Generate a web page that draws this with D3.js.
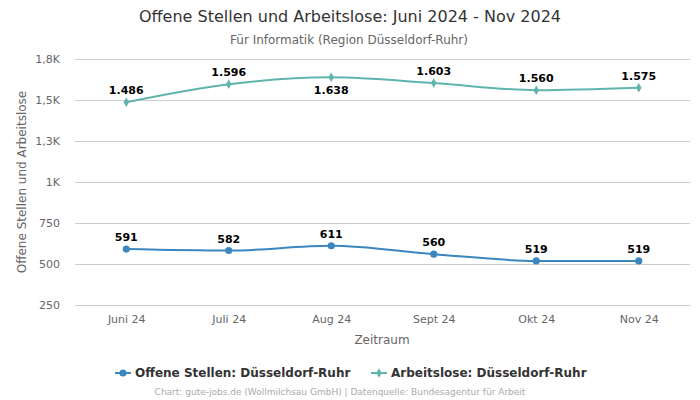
<!DOCTYPE html>
<html><head><meta charset="utf-8">
<script src="https://cdn.jsdelivr.net/npm/d3@7"></script>
<style>body{margin:0;background:#fff;font-family:"DejaVu Sans",sans-serif;}</style>
</head><body>
<svg id="c" width="700" height="400"></svg>
<script>
const categories = ["Juni 24","Juli 24","Aug 24","Sept 24","Okt 24","Nov 24"];
const offeneStellen = [591, 582, 611, 560, 519, 519];
const arbeitslose = [1486, 1596, 1638, 1603, 1560, 1575];
const yTicks = [250, 500, 750, 1000, 1250, 1500, 1750];
const yTickLabels = ["250","500","750","1K","1,3K","1,5K","1,8K"];
const labelBelow = [false, false, true, false, false, false];

const svg = d3.select("#c");
const M = {l:75, r:690, t:59, b:305};
const x = d3.scalePoint().domain(categories).range([M.l, M.r]).padding(0.5);
const y = d3.scaleLinear().domain([250,1750]).range([M.b, M.t]);

svg.append("text").attr("x",350).attr("y",22).attr("text-anchor","middle")
  .attr("font-size",16).attr("fill","#333").text("Offene Stellen und Arbeitslose: Juni 2024 - Nov 2024");
svg.append("text").attr("x",349).attr("y",44).attr("text-anchor","middle")
  .attr("font-size",12).attr("fill","#666").text("Für Informatik (Region Düsseldorf-Ruhr)");

const ya = svg.append("g").attr("transform",`translate(${M.l},0)`)
  .call(d3.axisLeft(y).tickValues(yTicks).tickFormat((d,i)=>yTickLabels[i]).tickSize(-(M.r-M.l)).tickPadding(15));
ya.select(".domain").remove();
ya.selectAll(".tick line").attr("stroke","#ccc");
ya.selectAll(".tick text").attr("fill","#666").attr("font-size",11).attr("font-family","DejaVu Sans");

const xa = svg.append("g").attr("transform",`translate(0,${M.b})`)
  .call(d3.axisBottom(x).tickSize(0).tickPadding(10));
xa.select(".domain").remove();
xa.selectAll(".tick text").attr("fill","#666").attr("font-size",11).attr("font-family","DejaVu Sans");

svg.append("text").attr("x",382).attr("y",344).attr("text-anchor","middle")
  .attr("font-size",12).attr("fill","#666").text("Zeitraum");
svg.append("text").attr("transform","translate(26,182) rotate(-90)").attr("text-anchor","middle")
  .attr("font-size",12).attr("fill","#666").text("Offene Stellen und Arbeitslose");

const fmt = v => d3.format(",")(v).replace(/,/g,".");
const series = [
  {vals: offeneStellen, color:"#3c86c0", sym: d3.symbolCircle, size: 40, below: categories.map(()=>false)},
  {vals: arbeitslose, color:"#5fb5ae", sym: d3.symbolDiamond, size: 26, below: labelBelow}
];
const line = d3.line().x((d,i)=>x(categories[i])).y(d=>y(d)).curve(d3.curveMonotoneX);
series.forEach(s=>{
  svg.append("path").datum(s.vals).attr("d",line).attr("fill","none").attr("stroke",s.color).attr("stroke-width",2);
  svg.selectAll(null).data(s.vals).enter().append("path")
    .attr("transform",(d,i)=>`translate(${x(categories[i])},${y(d)})`)
    .attr("d",d3.symbol().type(s.sym).size(s.size)).attr("fill",s.color);
  svg.selectAll(null).data(s.vals).enter().append("text")
    .attr("x",(d,i)=>x(categories[i])).attr("y",(d,i)=>s.below[i]? y(d)+17 : y(d)-8)
    .attr("text-anchor","middle").attr("font-size",11).attr("font-weight","bold").attr("fill","#000")
    .text(d=>fmt(d));
});

const legend = [{t:"Offene Stellen: Düsseldorf-Ruhr", c:"#3c86c0", sym:d3.symbolCircle, s:40, x:115},
                {t:"Arbeitslose: Düsseldorf-Ruhr", c:"#5fb5ae", sym:d3.symbolDiamond, s:26, x:371}];
legend.forEach(l=>{
  svg.append("line").attr("x1",l.x).attr("x2",l.x+16).attr("y1",373).attr("y2",373).attr("stroke",l.c).attr("stroke-width",2);
  svg.append("path").attr("transform",`translate(${l.x+8},373)`).attr("d",d3.symbol().type(l.sym).size(l.s)).attr("fill",l.c);
  svg.append("text").attr("x",l.x+20).attr("y",377).attr("font-size",12).attr("font-weight","bold").attr("fill","#333").text(l.t);
});
svg.append("text").attr("x",340).attr("y",395).attr("text-anchor","middle").attr("font-size",9).attr("fill","#aaa")
  .text("Chart: gute-jobs.de (Wollmilchsau GmbH) | Datenquelle: Bundesagentur für Arbeit");
</script>
</body></html>
